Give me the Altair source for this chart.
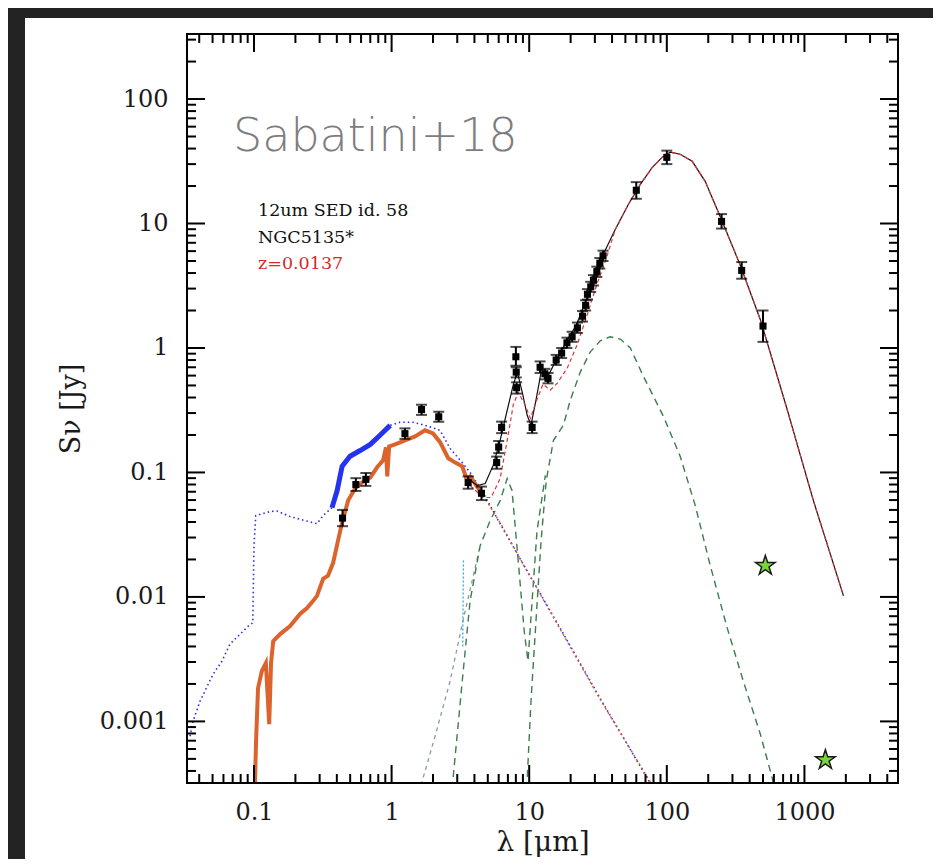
import altair as alt
import pandas as pd

# ---------------- data ----------------
obs_wl = [0.44, 0.55, 0.65, 1.25, 1.65, 2.2, 3.6, 4.5, 5.8, 6.0, 6.3, 8.0, 8.05, 8.1,
          10.5, 12.0, 13.0, 13.7, 15.7, 17.2, 18.8, 20.5, 22.4, 24.4, 25.7, 26.5, 28.0,
          29.3, 31.0, 32.6, 34.4, 60, 100, 250, 350, 500]
obs_s = [0.043, 0.080, 0.088, 0.205, 0.32, 0.28, 0.083, 0.068, 0.12, 0.16, 0.23, 0.85, 0.64, 0.48,
         0.23, 0.70, 0.62, 0.57, 0.80, 0.91, 1.10, 1.23, 1.45, 1.80, 2.20, 2.70, 3.10,
         3.50, 4.10, 4.80, 5.50, 18.5, 34.0, 10.4, 4.2, 1.5]
obs_lo = [0.037, 0.071, 0.078, 0.186, 0.29, 0.255, 0.074, 0.060, 0.107, 0.143, 0.207, 0.72, 0.58, 0.43,
          0.207, 0.63, 0.56, 0.52, 0.73, 0.83, 1.00, 1.12, 1.32, 1.63, 2.0, 2.45, 2.82,
          3.18, 3.72, 4.35, 5.0, 15.8, 30.0, 9.1, 3.6, 1.12]
obs_hi = [0.050, 0.090, 0.099, 0.226, 0.35, 0.308, 0.093, 0.077, 0.134, 0.179, 0.256, 1.02, 0.70, 0.53,
          0.256, 0.78, 0.68, 0.63, 0.88, 1.0, 1.21, 1.35, 1.6, 1.98, 2.42, 2.97, 3.4,
          3.85, 4.5, 5.28, 6.05, 21.5, 38.5, 11.9, 4.9, 2.0]

# total model (black solid)
tot_wl = [3.6, 4.19, 4.79, 5.47, 6.15, 6.92, 7.65, 8.2, 8.9, 9.67, 10.3, 11.2, 12.2, 13.7, 15.7,
          18.6, 22.0, 26.0, 30.7, 34.4, 42.2, 52.5, 64.2, 78.5, 92.7, 106, 125, 153, 190, 249,
          343, 479, 752, 1162, 1923]
tot_s = [0.0895, 0.0785, 0.0815, 0.114, 0.181, 0.316, 0.503, 0.64, 0.442, 0.288, 0.24, 0.381, 0.64,
         0.595, 0.80, 1.12, 1.53, 2.44, 4.10, 5.6, 8.95, 14.2, 20.6, 28.3, 34.1, 37.4, 36.0, 31.6,
         21.8, 10.8, 4.58, 1.68, 0.316, 0.0594, 0.0102]

# second model (red dashed)
red_wl = [3.72, 4.62, 5.29, 6.15, 6.92, 7.65, 8.32, 9.35, 10.2, 11.2, 12.6, 14.2, 16.0, 18.9,
          22.3, 26.4, 31.3, 35.7, 42.2, 52.5, 64.2, 78.5, 92.7, 106, 125, 153, 190, 249,
          343, 479, 752, 1162, 1923]
red_s = [0.0785, 0.0629, 0.0629, 0.0895, 0.181, 0.347, 0.442, 0.347, 0.272, 0.367, 0.513, 0.458,
         0.522, 0.69, 1.06, 1.85, 3.34, 4.94, 8.95, 14.2, 20.6, 28.3, 34.1, 37.4, 36.0, 31.6,
         21.8, 10.8, 4.58, 1.68, 0.316, 0.0594, 0.0102]

# attenuated stellar (orange, thick)
orn_wl = [0.1, 0.1017, 0.1035, 0.107, 0.114, 0.122, 0.129, 0.133, 0.138, 0.155, 0.183, 0.216,
          0.243, 0.269, 0.287, 0.318, 0.345, 0.376, 0.408, 0.437, 0.483, 0.543, 0.61, 0.70,
          0.785, 0.867, 0.91, 0.93, 0.96, 1.06, 1.25, 1.48, 1.75, 2.0, 2.25, 2.58, 2.9, 3.26,
          3.5, 3.72, 4.62]
orn_s = [2.0e-4, 3.2e-4, 6.9e-4, 1.85e-3, 2.53e-3, 2.94e-3, 9.5e-4, 2.94e-3, 4.42e-3, 5.03e-3,
         5.83e-3, 7.3e-3, 8.15e-3, 9.3e-3, 0.0102, 0.0140, 0.0148, 0.0188, 0.0283, 0.0395,
         0.0594, 0.0743, 0.083, 0.091, 0.110, 0.125, 0.159, 0.093, 0.162, 0.168, 0.181, 0.195,
         0.218, 0.206, 0.175, 0.130, 0.120, 0.112, 0.0895, 0.093, 0.0653]

# attenuated stellar tail (thin orange-red dotted)
tail_wl = [4.62, 6.15, 8.6, 16.8, 32.8, 89.8]
tail_s = [0.0653, 0.0395, 0.0202, 5.5e-3, 1.5e-3, 2.4e-4]

# unattenuated stellar (blue dotted)
blu_wl = [0.0343, 0.036, 0.0405, 0.0504, 0.0585, 0.0669, 0.079, 0.0904, 0.098, 0.1, 0.103,
          0.116, 0.131, 0.147, 0.183, 0.235, 0.287, 0.318, 0.369, 0.402, 0.437, 0.499, 0.59,
          0.70, 0.824, 0.976, 1.15, 1.43, 1.75, 2.25, 2.66, 3.26, 3.72, 4.62, 5.85, 8.6, 16.8,
          32.8, 64.2, 82.4]
blu_s = [7.6e-4, 1.0e-3, 1.45e-3, 2.39e-3, 3.05e-3, 4.18e-3, 5.0e-3, 5.8e-3, 6.2e-3, 0.0258,
         0.045, 0.0467, 0.0485, 0.049, 0.0442, 0.041, 0.0388, 0.045, 0.0522, 0.0716, 0.112,
         0.135, 0.150, 0.168, 0.199, 0.239, 0.253, 0.253, 0.239, 0.218, 0.156, 0.12, 0.1,
         0.069, 0.0426, 0.0202, 5.6e-3, 1.53e-3, 4.34e-4, 2.7e-4]

# thick blue part (0.35 - 1 micron)
bth_wl = [0.369, 0.402, 0.437, 0.499, 0.59, 0.70, 0.824, 0.976]
bth_s = [0.0522, 0.0716, 0.112, 0.135, 0.150, 0.168, 0.199, 0.239]

# cold dust (green dashed)
grb_wl = [9.5, 10.3, 11.2, 12.2, 13.3, 15.0, 17.7, 19.9, 23.5, 27.8, 32.8, 38.8, 45.9, 54.3,
          67.5, 94.4, 125, 161, 207, 275, 360, 479, 585, 615]
grb_s = [2.3e-4, 1.45e-3, 6.4e-3, 0.0283, 0.0862, 0.181, 0.239, 0.381, 0.64, 0.93, 1.14, 1.23,
         1.18, 1.0, 0.594, 0.283, 0.135, 0.0542, 0.0178, 5.6e-3, 2.1e-3, 7.85e-4, 3.47e-4, 2.5e-4]

# warm dust with silicate feature (green dashed)
gra_wl = [2.7, 3.26, 3.72, 4.4, 5.2, 6.15, 6.92, 7.5, 8.32, 9.2, 9.8, 10.5, 11.4, 13.1]
gra_s = [2.3e-4, 2.1e-3, 9.3e-3, 0.0258, 0.041, 0.0594, 0.0895, 0.0716, 0.0195, 5.3e-3,
         3.05e-3, 9.3e-3, 0.034, 0.0946]

# hot component (grey dashed)
gry_wl = [1.56, 1.64, 2.07, 2.66, 3.26, 3.85, 4.4]
gry_s = [2.3e-4, 3.1e-4, 7.6e-4, 2.1e-3, 6.05e-3, 0.0135, 0.0258]

# PAH 3.3 feature (teal dotted)
tea_wl = [3.29, 3.31, 3.33]
tea_s = [4.0e-3, 0.0105, 0.02]

# sub-mm stars
star_wl = [520, 1420]
star_s = [0.0178, 4.9e-4]

# axis tick values
x_major = [0.1, 1, 10, 100, 1000]
x_minor = [0.04, 0.05, 0.06, 0.07, 0.08, 0.09,
           0.2, 0.3, 0.4, 0.5, 0.6, 0.7, 0.8, 0.9,
           2, 3, 4, 5, 6, 7, 8, 9,
           20, 30, 40, 50, 60, 70, 80, 90,
           200, 300, 400, 500, 600, 700, 800, 900,
           2000, 3000, 4000]
y_major = [0.001, 0.01, 0.1, 1, 10, 100]
y_minor = [4e-4, 5e-4, 6e-4, 7e-4, 8e-4, 9e-4,
           2e-3, 3e-3, 4e-3, 5e-3, 6e-3, 7e-3, 8e-3, 9e-3,
           0.02, 0.03, 0.04, 0.05, 0.06, 0.07, 0.08, 0.09,
           0.2, 0.3, 0.4, 0.5, 0.6, 0.7, 0.8, 0.9,
           2, 3, 4, 5, 6, 7, 8, 9,
           20, 30, 40, 50, 60, 70, 80, 90,
           200, 300]

# annotations (positions in data coordinates)
ann_text = ["12um SED id. 58", "NGC5135*", "z=0.0137"]
ann_wl = [0.107, 0.107, 0.107]
ann_s = [12.5, 7.7, 4.76]
ann_col = ["#111111", "#111111", "#d42a2a"]

# ---------------- chart ----------------
W, H = 711, 749
SERIF = "DejaVu Serif"

xs = alt.Scale(type="log", domain=[0.0326, 4786], nice=False)
ys = alt.Scale(type="log", domain=[3.2e-4, 333], nice=False)

xaxis = alt.Axis(values=x_major, format="~g", title="λ [μm]", grid=False, ticks=False,
                 tickSize=0, domain=False, labelFont=SERIF, labelFontSize=24,
                 labelColor="#1a1a1a", labelPadding=17, titleFont=SERIF, titleFontSize=28,
                 titleFontWeight="normal", titleColor="#1a1a1a", titlePadding=4,
                 labelFlush=False, zindex=2)
yaxis = alt.Axis(values=y_major, format="~g", title="Sν [Jy]", grid=False, ticks=False,
                 tickSize=0, domain=False, labelFont=SERIF, labelFontSize=24,
                 labelColor="#1a1a1a", labelPadding=19, titleFont=SERIF, titleFontSize=27,
                 titleFontWeight="normal", titleColor="#1a1a1a", titlePadding=14,
                 labelFlush=False, zindex=2)


def X(field="wl"):
    return alt.X(f"{field}:Q", scale=xs, axis=xaxis)


def Y(field="s"):
    return alt.Y(f"{field}:Q", scale=ys, axis=yaxis)


def frame(wl, s):
    return pd.DataFrame({"wl": wl, "s": s, "i": list(range(len(wl)))})


def line(wl, s, color, width, dash=None):
    kw = dict(color=color, strokeWidth=width, clip=True)
    if dash is not None:
        kw["strokeDash"] = dash
    return alt.Chart(frame(wl, s)).mark_line(**kw).encode(
        x=X(), y=Y(), order=alt.Order("i:Q"))


one = alt.Data(values=[{"a": 1}])

panel = alt.Chart(one).mark_rect(fill="white").encode(
    x=alt.value(-162), x2=alt.value(1000), y=alt.value(-16), y2=alt.value(1000))

layers = [panel]
layers.append(line(gry_wl, gry_s, "#8c9a9a", 1.3, [4, 4]))
layers.append(line(tea_wl, tea_s, "#3fa7c9", 1.3, [2, 2]))
layers.append(line(gra_wl, gra_s, "#3c7d4e", 1.4, [7, 5]))
layers.append(line(grb_wl, grb_s, "#3c7d4e", 1.4, [7, 5]))
layers.append(line(blu_wl, blu_s, "#2a2cf0", 1.6, [1.5, 3]))
layers.append(line(tail_wl, tail_s, "#d9582b", 1.4, [2, 3]))
layers.append(line(bth_wl, bth_s, "#2333ef", 5))
layers.append(line(orn_wl, orn_s, "#dc632c", 4))
layers.append(line(tot_wl, tot_s, "#111111", 1.2))
layers.append(line(red_wl, red_s, "#e0343a", 1.2, [4, 3]))

obs = pd.DataFrame({"wl": obs_wl, "s": obs_s, "lo": obs_lo, "hi": obs_hi})
layers.append(alt.Chart(obs).mark_rule(color="black", strokeWidth=2).encode(
    x=X(), y=Y("lo"), y2="hi:Q"))
layers.append(alt.Chart(obs).mark_tick(color="black", orient="horizontal", size=11,
                                       thickness=2).encode(x=X(), y=Y("lo")))
layers.append(alt.Chart(obs).mark_tick(color="black", orient="horizontal", size=11,
                                       thickness=2).encode(x=X(), y=Y("hi")))
layers.append(alt.Chart(obs).mark_square(color="black", size=50, opacity=1).encode(
    x=X(), y=Y()))

STAR = ("M0,-1L0.2245,-0.309L0.951,-0.309L0.363,0.118L0.588,0.809L0,0.382"
        "L-0.588,0.809L-0.363,0.118L-0.951,-0.309L-0.2245,-0.309Z")
layers.append(alt.Chart(frame(star_wl, star_s)).mark_point(
    shape=STAR, size=420, filled=True, fill="#78d63a", stroke="#1a1a1a",
    strokeWidth=1.5, opacity=1).encode(x=X(), y=Y()))

ann = pd.DataFrame({"wl": ann_wl, "s": ann_s, "t": ann_text, "c": ann_col})
layers.append(alt.Chart(ann).mark_text(align="left", baseline="middle", font=SERIF,
                                       fontSize=17.5).encode(
    x=X(), y=Y(), text="t:N", color=alt.Color("c:N", scale=None)))

layers.append(alt.Chart(frame([0.0704], [49.4])).mark_text(
    align="left", baseline="middle", font="DejaVu Sans", fontSize=46, fontWeight=300,
    color="#7d7d7d", text="Sabatini+18").encode(x=X(), y=Y()))

# inward ticks on all four sides
xt = pd.DataFrame({"wl": x_major + x_minor,
                   "L": [18] * len(x_major) + [9] * len(x_minor)})
yt = pd.DataFrame({"s": y_major + y_minor,
                   "L": [18] * len(y_major) + [9] * len(y_minor)})
xt_b = xt.assign(y0=H, y1=H - xt["L"])
xt_t = xt.assign(y0=0, y1=xt["L"])
yt_l = yt.assign(x0=0, x1=yt["L"])
yt_r = yt.assign(x0=W, x1=W - yt["L"])

for d in (xt_b, xt_t):
    layers.append(alt.Chart(d).mark_rule(color="black", strokeWidth=2).encode(
        x=X(), y=alt.Y("y0:Q", scale=None, axis=None), y2="y1:Q"))
for d in (yt_l, yt_r):
    layers.append(alt.Chart(d).mark_rule(color="black", strokeWidth=2).encode(
        y=Y(), x=alt.X("x0:Q", scale=None, axis=None), x2="x1:Q"))

layers.append(alt.Chart(one).mark_rect(fillOpacity=0, stroke="black", strokeWidth=2).encode(
    x=alt.value(0), x2=alt.value(W), y=alt.value(0), y2=alt.value(H)))

chart = alt.layer(*layers).properties(
    width=W, height=H,
    autosize=alt.AutoSizeParams(type="none"),
    padding={"left": 179, "top": 26, "right": 35, "bottom": 76},
    background="#232323",
).configure_view(strokeWidth=0)

chart.save("out.html", embed_options={"renderer": "svg", "actions": False})
